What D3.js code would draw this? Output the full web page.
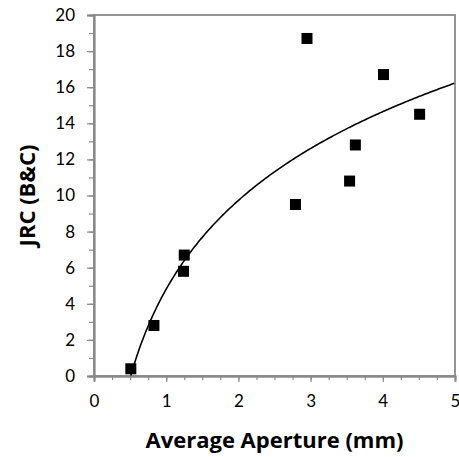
<!DOCTYPE html>
<html>
<head>
<meta charset="utf-8">
<script src="https://cdn.jsdelivr.net/npm/d3@7"></script>
<style>
  html, body { margin: 0; padding: 0; background: #fff; }
  svg { display: block; }
</style>
</head>
<body>
<script>
// Measured joints: mean aperture (mm) and JRC back-calculated (B&C)
const aperture = [0.51, 0.83, 1.24, 1.25, 2.79, 2.95, 3.54, 3.62, 4.01, 4.51];
const jrc      = [0.4, 2.8, 5.8, 6.7, 9.5, 18.7, 10.8, 12.8, 16.7, 14.5];

const xTicks = [0, 1, 2, 3, 4, 5];
const yTicks = [0, 2, 4, 6, 8, 10, 12, 14, 16, 18, 20];
const xTitle = "Average Aperture (mm)";
const yTitle = "JRC (B&C)";

const W = 459, H = 457;
const margin = { left: 94, right: 4, top: 15, bottom: 81 };

const svg = d3.select("body").append("svg")
  .attr("width", W).attr("height", H);

const x = d3.scaleLinear().domain([0, 5]).range([margin.left, W - margin.right]);
const y = d3.scaleLinear().domain([0, 20]).range([H - margin.bottom, margin.top]);

const axisColor = "#898989";
const tickFont = "Lato, 'Open Sans', sans-serif";
const titleFont = "'Open Sans', Lato, sans-serif";

// Plot frame
svg.append("rect")
  .attr("x", x(0)).attr("y", y(20))
  .attr("width", x(5) - x(0)).attr("height", y(0) - y(20))
  .attr("fill", "none").attr("stroke", axisColor).attr("stroke-width", 1.8);

// Minor ticks (x every 0.25, y every 1)
const xMinor = d3.range(0, 5.001, 0.25);
const yMinor = d3.range(0, 20.001, 1);

const xAxisMinor = d3.axisBottom(x).tickValues(xMinor).tickSize(4).tickFormat("");
const yAxisMinor = d3.axisLeft(y).tickValues(yMinor).tickSize(5).tickFormat("");
const xAxis = d3.axisBottom(x).tickValues(xTicks).tickSize(6).tickPadding(13).tickFormat(d3.format("d"));
const yAxis = d3.axisLeft(y).tickValues(yTicks).tickSize(7).tickPadding(12).tickFormat(d3.format("d"));

function styleAxis(g) {
  g.select(".domain").attr("stroke", axisColor).attr("stroke-width", 1.8);
  g.selectAll(".tick line").attr("stroke", axisColor).attr("stroke-width", 1.2);
  g.selectAll(".tick text").attr("fill", "#000")
    .style("font-family", tickFont).style("font-size", "17px");
}

svg.append("g").attr("transform", `translate(0,${y(0)})`).call(xAxisMinor).call(styleAxis);
svg.append("g").attr("transform", `translate(${x(0)},0)`).call(yAxisMinor).call(styleAxis);
svg.append("g").attr("transform", `translate(0,${y(0)})`).call(xAxis).call(styleAxis);
svg.append("g").attr("transform", `translate(${x(0)},0)`).call(yAxis).call(styleAxis);

// Logarithmic trend line y = a ln(x) + b, least-squares fit to the points
const L = aperture.map(Math.log);
const mL = d3.mean(L), mY = d3.mean(jrc);
const a = d3.sum(L, (l, i) => (l - mL) * (jrc[i] - mY)) / d3.sum(L, l => (l - mL) ** 2);
const b = mY - a * mL;
const x0 = Math.exp(-b / a);
const trendX = d3.range(Math.max(x0, d3.min(aperture)), 5.0001, 0.02);
const trend = trendX.map(v => [v, a * Math.log(v) + b]);

svg.append("path")
  .datum(trend)
  .attr("fill", "none").attr("stroke", "#000").attr("stroke-width", 1.6)
  .attr("d", d3.line().x(d => x(d[0])).y(d => y(Math.max(0, d[1]))));

// Data markers
const s = 11;
svg.append("g").selectAll("rect")
  .data(aperture.map((v, i) => [v, jrc[i]]))
  .join("rect")
  .attr("x", d => x(d[0]) - s / 2).attr("y", d => y(d[1]) - s / 2)
  .attr("width", s).attr("height", s).attr("fill", "#000");

// Axis titles
svg.append("text")
  .attr("x", (x(0) + x(5)) / 2).attr("y", 448)
  .attr("text-anchor", "middle")
  .style("font-family", titleFont).style("font-weight", "bold").style("font-size", "22px")
  .text(xTitle);

svg.append("text")
  .attr("transform", `translate(35,${(y(0) + y(20)) / 2}) rotate(-90)`)
  .attr("text-anchor", "middle")
  .style("font-family", titleFont).style("font-weight", "bold").style("font-size", "22px")
  .text(yTitle);
</script>
</body>
</html>
